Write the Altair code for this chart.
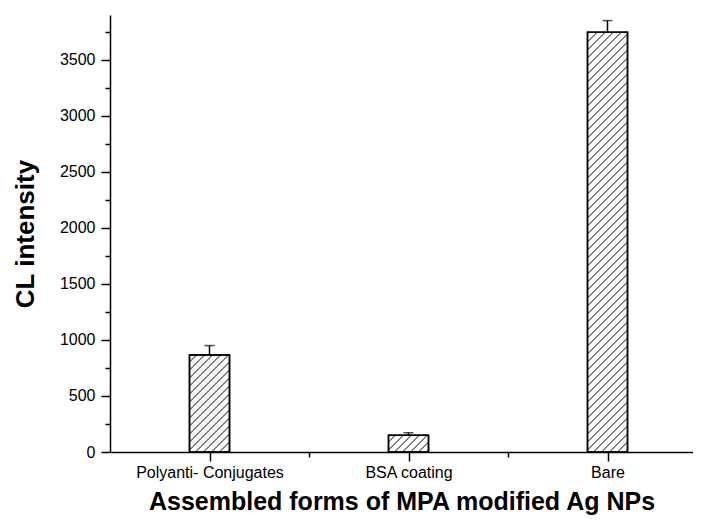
import altair as alt
import pandas as pd

categories = ["Polyanti- Conjugates", "BSA coating", "Bare"]
positions = [1, 2, 3]
values = [865, 150, 3745]
errors = [85, 22, 105]

y_major = [0, 500, 1000, 1500, 2000, 2500, 3000, 3500]
y_minor = [250, 750, 1250, 1750, 2250, 2750, 3250, 3750]
x_minor = [1.5, 2.5]

W, H = 583, 437
XDOM = [0.5, 0.5 + 583 / 199]
YDOM = [0, 3900]
kx = W / (XDOM[1] - XDOM[0])
ky = H / (YDOM[1] - YDOM[0])
BAR_PX = 40
half = BAR_PX / 2 / kx

bars = pd.DataFrame({
    "cat": categories, "pos": positions, "val": values, "err": errors,
})
bars["left"] = bars["pos"] - half
bars["right"] = bars["pos"] + half
bars["top"] = bars["val"] + bars["err"]
bars["zero"] = 0

# hatch segments (45 degrees in pixel space)
rows = []
step = 8
for p, v in zip(positions, values):
    hp = v * ky
    c = -BAR_PX + 2
    while c < hp:
        u0 = max(0, -c)
        u1 = min(BAR_PX, hp - c)
        if u1 > u0:
            rows.append({
                "x": p - half + u0 / kx, "x2": p - half + u1 / kx,
                "y": (u0 + c) / ky, "y2": (u1 + c) / ky,
            })
        c += step
hatch = pd.DataFrame(rows)

font = "Liberation Sans"
xscale = alt.Scale(domain=XDOM, nice=False, zero=False)
yscale = alt.Scale(domain=YDOM, nice=False)

label_expr = "datum.value == 1 ? 'Polyanti- Conjugates' : datum.value == 2 ? 'BSA coating' : 'Bare'"

x_axis = alt.Axis(orient="bottom", values=positions, labelExpr=label_expr, tickSize=9, tickWidth=1.5,
                  domainWidth=1.5, domainColor="black", tickColor="black",
                  labelFont=font, labelFontSize=16, labelColor="black", labelPadding=3,
                  title="Assembled forms of MPA modified Ag NPs", titleFont=font,
                  titleFontSize=25, titleFontWeight="bold", titleColor="black",
                  titlePadding=9, grid=False)
y_axis = alt.Axis(orient="left", values=y_major, format="d", tickSize=9, tickWidth=1.5, domainWidth=1.5,
                  domainColor="black", tickColor="black", labelFont=font, labelFontSize=16,
                  labelColor="black", labelPadding=6, title="CL intensity", titleFont=font,
                  titleFontSize=26, titleFontWeight="bold", titleColor="black",
                  titlePadding=21, grid=False)

base_bars = alt.Chart(bars).mark_rect(fill="white", stroke="black", strokeWidth=1.5).encode(
    x=alt.X("left:Q", scale=xscale, axis=x_axis),
    x2="right:Q",
    y=alt.Y("zero:Q", scale=yscale, axis=y_axis),
    y2="val:Q",
)

hatch_layer = alt.Chart(hatch).mark_rule(color="black", strokeWidth=1).encode(
    x=alt.X("x:Q", scale=xscale, axis=None), x2="x2:Q",
    y=alt.Y("y:Q", scale=yscale, axis=None), y2="y2:Q",
)

outline = alt.Chart(bars).mark_rect(fillOpacity=0, stroke="black", strokeWidth=1.5).encode(
    x=alt.X("left:Q", scale=xscale, axis=None), x2="right:Q",
    y=alt.Y("zero:Q", scale=yscale, axis=None), y2="val:Q",
)

err_rule = alt.Chart(bars).mark_rule(color="black", strokeWidth=1.5).encode(
    x=alt.X("pos:Q", scale=xscale, axis=None), y=alt.Y("val:Q", scale=yscale, axis=None), y2="top:Q",
)
err_cap = alt.Chart(bars).mark_tick(color="black", orient="horizontal", size=10, thickness=1.5).encode(
    x=alt.X("pos:Q", scale=xscale, axis=None), y=alt.Y("top:Q", scale=yscale, axis=None),
)

minor_x = alt.Chart(pd.DataFrame({"m": x_minor})).mark_point(opacity=0).encode(
    x=alt.X("m:Q", scale=xscale,
            axis=alt.Axis(orient="bottom", values=x_minor, tickSize=5, tickWidth=1.5, tickColor="black",
                          labels=False, domain=False, title="", grid=False)),
)
minor_y = alt.Chart(pd.DataFrame({"m": y_minor})).mark_point(opacity=0).encode(
    y=alt.Y("m:Q", scale=yscale,
            axis=alt.Axis(orient="left", values=y_minor, tickSize=5, tickWidth=1.5, tickColor="black",
                          labels=False, domain=False, title="", grid=False)),
)

chart = alt.layer(base_bars, hatch_layer, outline, err_rule, err_cap, minor_x, minor_y).resolve_axis(
    x="independent", y="independent"
).properties(
    width=W, height=H, autosize=alt.AutoSizeParams(type="none"),
    padding={"left": 102, "top": 7, "right": 0, "bottom": 64},
).configure(background="white").configure_view(strokeWidth=0, stroke="transparent")

chart.save("out.html", embed_options={"renderer": "svg", "actions": False})
